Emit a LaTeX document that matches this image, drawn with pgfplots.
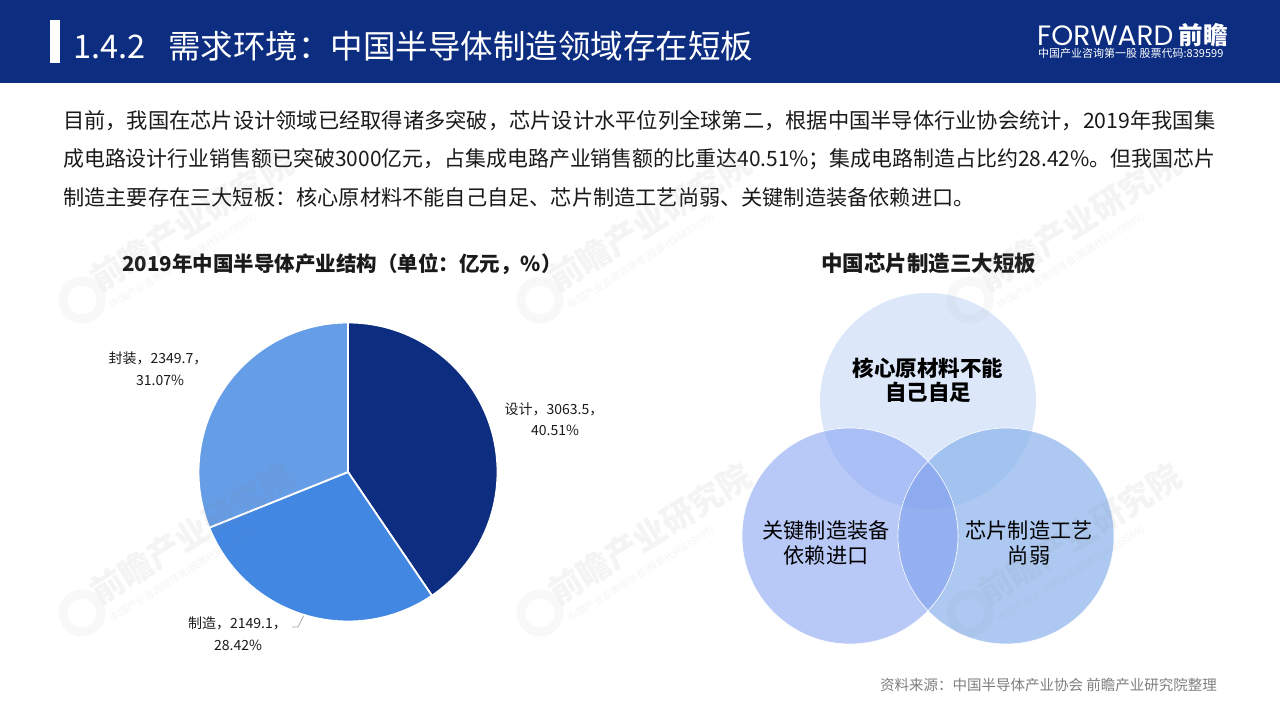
\documentclass[border=0pt]{standalone}
\usepackage{pgfplots}
\pgfplotsset{compat=1.18}
\usepackage{pgfplotstable}
\usepackage{graphicx}
\usepackage{fontspec}
\setmainfont{Noto Sans CJK SC}
\newfontfamily\logofont{Poppins}

\definecolor{hdr}{HTML}{0C2D80}
\definecolor{pieA}{HTML}{0C2D80}
\definecolor{pieB}{HTML}{4287E2}
\definecolor{pieC}{HTML}{659DE7}
\definecolor{vT}{HTML}{DCE8FA}
\definecolor{vL}{HTML}{B8C8F7}
\definecolor{vR}{HTML}{ADC9F2}
\definecolor{vTL}{HTML}{A9BFF5}
\definecolor{vTR}{HTML}{A2C3F0}
\definecolor{vLR}{HTML}{94B0F1}
\definecolor{vC}{HTML}{8EABF0}
\definecolor{txt}{HTML}{1A1A1A}
\definecolor{src}{HTML}{7F7F7F}
\definecolor{wmc}{HTML}{8A8A8A}

\pgfplotstableread{
part value
design 3063.5
manufacture 2149.1
packaging 2349.7
}\piedata

\newcommand\wm[2]{%
 \draw[wmc, opacity=0.06, line width=9pt] (#1,#2) circle (19);
 \node[rotate=32, anchor=south west, inner sep=0, text=wmc, text opacity=0.09, font=\bfseries\fontsize{33}{33}\selectfont] at (#1+20,#2-4) {前瞻产业研究院};
 \node[rotate=32, anchor=north west, inner sep=0, text=wmc, text opacity=0.09, font=\fontsize{10}{10}\selectfont] at (#1+26,#2+2) {中国产业咨询领导者(股票代码839599)};
}

\newcommand\pline[2]{\node[anchor=base west, inner sep=0, text=txt, font=\fontsize{21.2}{24}\selectfont] at (63,#1) {\resizebox{1152pt}{\height}{#2}};}

\begin{document}
\begin{tikzpicture}
\pgfplotstablegetelem{0}{value}\of\piedata \let\vA\pgfplotsretval
\pgfplotstablegetelem{1}{value}\of\piedata \let\vB\pgfplotsretval
\pgfplotstablegetelem{2}{value}\of\piedata \let\vC\pgfplotsretval
\pgfmathsetmacro\tot{\vA+\vB+\vC}
\pgfmathsetmacro\fA{\vA/\tot}
\pgfmathsetmacro\fB{\vB/\tot}
\pgfmathsetmacro\aA{90-360*\fA}
\pgfmathsetmacro\aB{\aA-360*\fB}
\useasboundingbox (0,0) rectangle (1280pt,-720pt);
\begin{scope}[x=1pt,y=-1pt]
 \fill[white] (0,0) rectangle (1280,720);
 % paragraph
 \pline{128}{目前，我国在芯片设计领域已经取得诸多突破，芯片设计水平位列全球第二，根据中国半导体行业协会统计，2019年我国集}
 \pline{166.5}{成电路设计行业销售额已突破3000亿元，占集成电路产业销售额的比重达40.51\%；集成电路制造占比约28.42\%。但我国芯片}
 \node[anchor=base west, inner sep=0, text=txt, font=\fontsize{21.2}{24}\selectfont] at (63,205) {制造主要存在三大短板：核心原材料不能自己自足、芯片制造工艺尚弱、关键制造装备依赖进口。};
 % titles
 \node[anchor=base, inner sep=0, text=txt, font=\bfseries\fontsize{20.5}{23}\selectfont] at (342,271) {2019年中国半导体产业结构（单位：亿元，\%）};
 \node[anchor=base, inner sep=0, text=txt, font=\bfseries\fontsize{21.5}{23}\selectfont] at (928.5,271) {中国芯片制造三大短板};
 % pie labels
 \begin{scope}[every node/.style={anchor=base, inner sep=0, text=txt, font=\fontsize{14}{15}\selectfont}]
  \node at (554,414) {设计，3063.5，};
  \node at (555,435) {40.51\%};
  \node at (158,363) {封装，2349.7，};
  \node at (160,385) {31.07\%};
  \node at (237.5,628) {制造，2149.1，};
  \node at (238,650) {28.42\%};
 \end{scope}
 \draw[black!35, line width=0.7pt] (292,627) -- (298,627) -- (304,615);
 % venn
 \fill[vT] (928,401) circle (108);
 \fill[vL] (850,536) circle (108);
 \fill[vR] (1006,536) circle (108);
 \begin{scope}
  \clip (928,401) circle (108);
  \fill[vTL] (850,536) circle (108);
  \fill[vTR] (1006,536) circle (108);
 \end{scope}
 \begin{scope}
  \clip (850,536) circle (108);
  \fill[vLR] (1006,536) circle (108);
 \end{scope}
 \begin{scope}
  \clip (928,401) circle (108);
  \clip (850,536) circle (108);
  \fill[vC] (1006,536) circle (108);
 \end{scope}
 \draw[white, line width=0.6pt] (850,536) circle (108);
 \draw[white, line width=0.6pt] (1006,536) circle (108);
 \begin{scope}[every node/.style={anchor=base, inner sep=0, text=black}]
  \node[font=\bfseries\fontsize{21.5}{23}\selectfont] at (928,376) {核心原材料不能};
  \node[font=\bfseries\fontsize{21.5}{23}\selectfont] at (928,400) {自己自足};
  \node[font=\fontsize{21.2}{23}\selectfont] at (826,538) {关键制造装备};
  \node[font=\fontsize{21.2}{23}\selectfont] at (826,563) {依赖进口};
  \node[font=\fontsize{21.2}{23}\selectfont] at (1029,538) {芯片制造工艺};
  \node[font=\fontsize{21.2}{23}\selectfont] at (1029,563) {尚弱};
 \end{scope}
 % source
 \node[anchor=base east, inner sep=0, text=src, font=\fontsize{14.5}{16}\selectfont] at (1217,690) {资料来源：中国半导体产业协会\ 前瞻产业研究院整理};
\end{scope}
\begin{axis}[at={(348pt,-472pt)}, anchor=center, hide axis, scale only axis,
  width=299pt, height=299pt, xmin=-1, xmax=1, ymin=-1, ymax=1, clip=false]
 \fill[pieA, draw=white, line width=1.8pt] (axis cs:0,0) -- ++(90:149.5pt) arc[start angle=90, end angle=\aA, radius=149.5pt] -- cycle;
 \fill[pieB, draw=white, line width=1.8pt] (axis cs:0,0) -- ++(\aA:149.5pt) arc[start angle=\aA, end angle=\aB, radius=149.5pt] -- cycle;
 \fill[pieC, draw=white, line width=1.8pt] (axis cs:0,0) -- ++(\aB:149.5pt) arc[start angle=\aB, end angle=-270, radius=149.5pt] -- cycle;
\end{axis}
\begin{scope}[x=1pt,y=-1pt]
 % watermarks
 \wm{82}{300}\wm{540}{300}\wm{970}{300}
 \wm{82}{613}\wm{540}{613}\wm{970}{613}
 % header (over watermarks)
 \fill[hdr] (0,0) rectangle (1280,83);
 \fill[white] (50,20) rectangle (60,63);
 \node[anchor=base west, inner sep=0, text=white, font=\fontsize{32.5}{34}\selectfont] at (73,58) {1.4.2};
 \node[anchor=base west, inner sep=0, text=white, font=\fontsize{32.5}{34}\selectfont] at (168,58) {需求环境：中国半导体制造领域存在短板};
 \node[anchor=base west, inner sep=0, text=white, font=\logofont\fontsize{28}{30}\selectfont] at (1037,45) {FORWARD};
 \node[anchor=base east, inner sep=0, text=white, font=\bfseries\fontsize{24.5}{26}\selectfont] at (1228,44) {前瞻};
 \node[anchor=base west, inner sep=0, text=white, font=\fontsize{11}{12}\selectfont] at (1038,57.5) {中国产业咨询第一股\ 股票代码:839599};
\end{scope}
\end{tikzpicture}
\end{document}
